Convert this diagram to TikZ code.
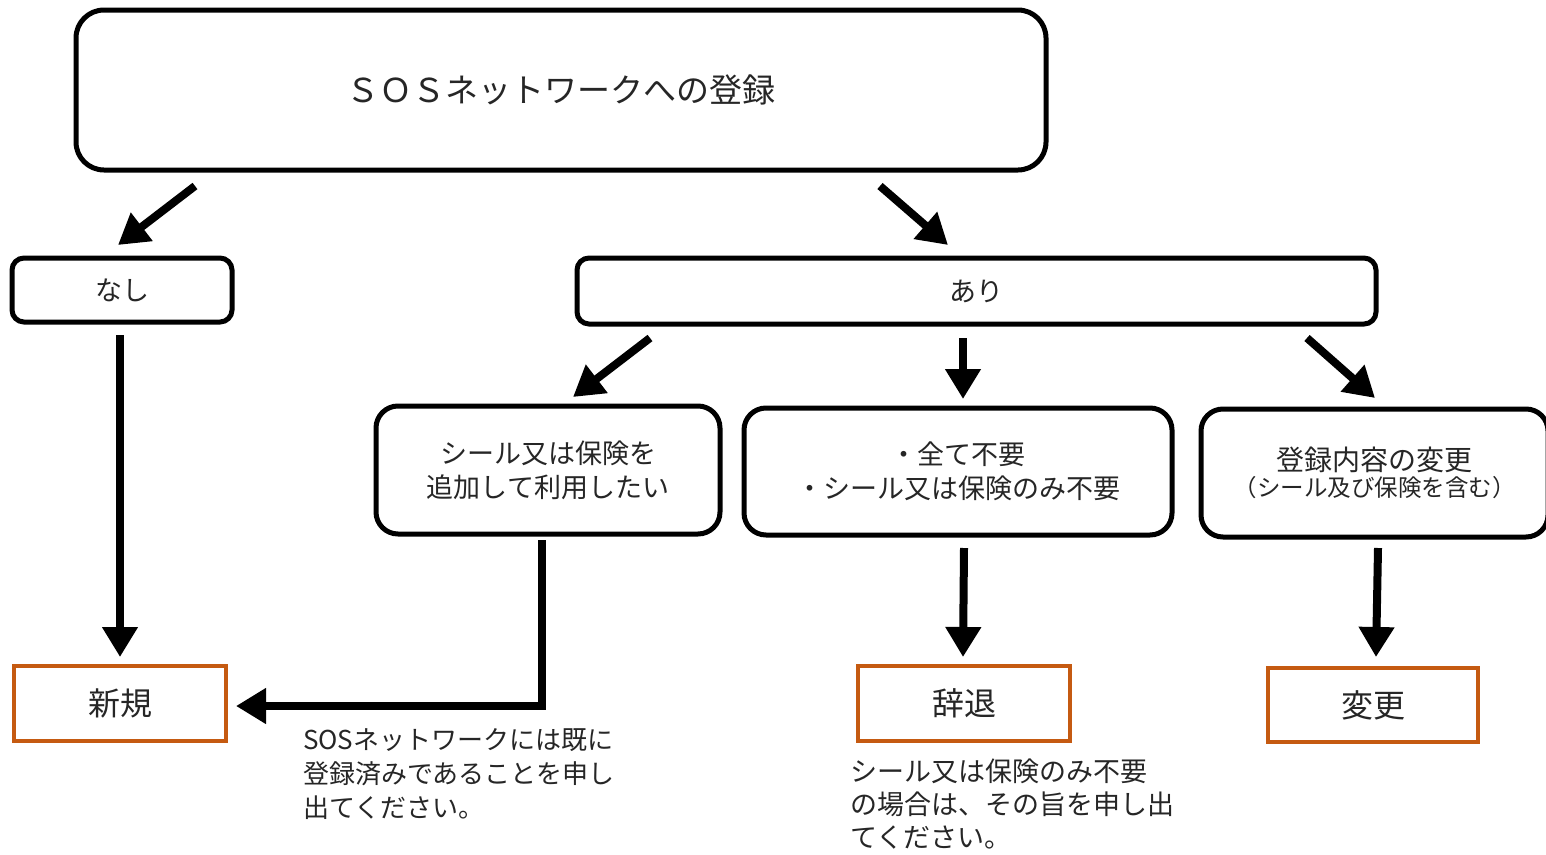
\documentclass[tikz,border=0pt]{standalone}
\usepackage{fontspec}
\newfontfamily\jp{Noto Sans CJK JP}
\usetikzlibrary{arrows.meta}
\definecolor{orng}{HTML}{C55A11}
\tikzset{
  rbox/.style={draw=black, line width=5pt, rounded corners=#1, fill=white, inner sep=0pt, align=center, text=black!85},
  obox/.style={draw=orng, line width=4.5pt, inner sep=0pt, align=center, text=black!85, font=\jp\fontsize{32pt}{36pt}\selectfont},
  arr/.style={line width=8pt, -{Triangle[width=34pt,length=30pt]}},
  note/.style={inner sep=0pt, align=left, anchor=north west, text=black!85},
}
\begin{document}
\begin{tikzpicture}[x=1pt,y=-1pt]
\useasboundingbox (0,0) rectangle (1546,854);
% boxes
\node[rbox=28pt, minimum width=970pt, minimum height=160pt, font=\jp\fontsize{33pt}{38pt}\selectfont] (top) at (561,90) {ＳＯＳネットワークへの登録};
\node[rbox=12pt, minimum width=220pt, minimum height=64pt, font=\jp\fontsize{27pt}{30pt}\selectfont] (nashi) at (122,290) {なし};
\node[rbox=12pt, minimum width=799pt, minimum height=66pt, font=\jp\fontsize{27pt}{30pt}\selectfont] (ari) at (976.5,291) {あり};
\node[rbox=22pt, minimum width=344pt, minimum height=128pt, font=\jp\fontsize{27pt}{34pt}\selectfont] (add) at (548,470) {シール又は保険を\\追加して利用したい};
\node[rbox=22pt, minimum width=428pt, minimum height=127pt, font=\jp\fontsize{27pt}{34pt}\selectfont] (none) at (958,471.5) {・全て不要\\・シール又は保険のみ不要};
\node[rbox=22pt, minimum width=347pt, minimum height=128pt] (chg) at (1374.5,473) {{\jp\fontsize{28pt}{34pt}\selectfont 登録内容の変更}\\[3pt]{\jp\fontsize{23.5pt}{34pt}\selectfont （シール及び保険を含む）}};
\node[obox, minimum width=212pt, minimum height=75pt] (shinki) at (120,703.5) {新規};
\node[obox, minimum width=212pt, minimum height=75pt] (jitai) at (964,703.5) {辞退};
\node[obox, minimum width=210pt, minimum height=74pt] (henko) at (1373,705) {変更};
% notes
\node[note, font=\jp\fontsize{26pt}{34pt}\selectfont] (n1) at (303,728) {SOSネットワークには既に\\登録済みであることを申し\\出てください。};
\node[note, font=\jp\fontsize{27pt}{33pt}\selectfont] (n2) at (850,759) {シール又は保険のみ不要\\の場合は、その旨を申し出\\てください。};
% arrow coordinates
\coordinate (a1s) at (195,186); \coordinate (a1e) at (118,245);
\coordinate (a2s) at (880,186); \coordinate (a2e) at (948,245);
\coordinate (a3s) at (650,338); \coordinate (a3e) at (573,397);
\coordinate (a4s) at (963,338); \coordinate (a4e) at (963,399);
\coordinate (a5s) at (1307,338); \coordinate (a5e) at (1375,398);
\coordinate (a6s) at (120,335); \coordinate (a6e) at (120,657);
\coordinate (a7s) at (542,540); \coordinate (a7m) at (542,706); \coordinate (a7e) at (236,706);
\coordinate (a8s) at (964,548); \coordinate (a8e) at (963,657);
\coordinate (a9s) at (1378,548); \coordinate (a9e) at (1376,657);
\draw[arr] (a1s) -- (a1e);
\draw[arr] (a2s) -- (a2e);
\draw[arr] (a3s) -- (a3e);
\draw[arr] (a4s) -- (a4e);
\draw[arr] (a5s) -- (a5e);
\draw[arr] (a6s) -- (a6e);
\draw[arr, line join=miter] (a7s) -- (a7m) -- (a7e);
\draw[arr] (a8s) -- (a8e);
\draw[arr] (a9s) -- (a9e);
\end{tikzpicture}
\end{document}
